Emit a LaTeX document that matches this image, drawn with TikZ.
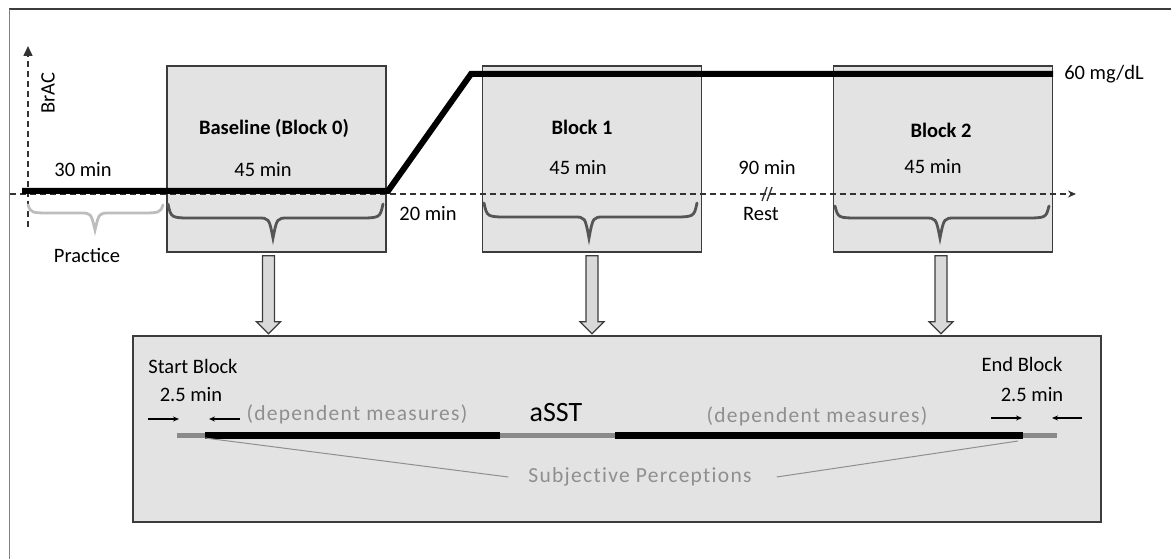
\documentclass[tikz,border=0pt]{standalone}
\usepackage{fontspec}
\setmainfont{Carlito}
\newfontfamily\grayfont[LetterSpace=6,Ligatures=NoCommon]{Carlito}
\usetikzlibrary{arrows.meta,calc}
\definecolor{boxfill}{HTML}{E3E3E3}
\definecolor{boxborder}{HTML}{3C3C3C}
\definecolor{bracedark}{HTML}{555555}
\definecolor{bracelight}{HTML}{BDBDBD}
\definecolor{graytext}{HTML}{8F8F8F}
\definecolor{axiscol}{HTML}{333333}
\definecolor{barGray}{HTML}{8A8A8A}
\definecolor{arrowfill}{HTML}{D9D9D9}
\newcommand\curlybr[7]{%
  \draw[#7] (#1,#4) .. controls (#1+3,#5) .. (#1+25,#5) -- (#3-15,#5)
    .. controls (#3-4,#5) .. (#3,#6) .. controls (#3+4,#5) .. (#3+15,#5)
    -- (#2-25,#5) .. controls (#2-3,#5) .. (#2,#4);}
\begin{document}
\begin{tikzpicture}[x=1pt,y=-1pt,
  every node/.style={inner sep=0pt, font=\fontsize{20.5}{24}\selectfont},
  blockbox/.style={draw=boxborder, line width=1.5pt, fill=boxfill, minimum width=219pt, minimum height=186pt},
  bigbox/.style={draw=boxborder, line width=2.2pt, fill=boxfill, minimum width=968pt, minimum height=186pt},
  titletext/.style={font=\fontsize{20.5}{24}\selectfont\bfseries},
  graylabel/.style={text=graytext, font=\fontsize{21.5}{24}\selectfont\grayfont},
  axisline/.style={draw=axiscol, line width=1.5pt, dash pattern=on 6pt off 4pt},
  darkbrace/.style={draw=bracedark, line width=2.8pt, line cap=round},
  lightbrace/.style={draw=bracelight, line width=2.8pt, line cap=round},
  bracstroke/.style={line width=6pt, line join=miter},
  blockarrow/.style={draw=boxborder, line width=1.2pt, fill=arrowfill, line join=miter},
  smallarrow/.style={line width=1.3pt, -{Stealth[length=6pt,width=5pt]}},
  perline/.style={draw=graytext, line width=1pt},
  downarr/.pic={\draw[blockarrow] (-6,0) -- (6,0) -- (6,66) -- (12,66) -- (0,78) -- (-12,66) -- (-6,66) -- cycle;}
]
\useasboundingbox (0,0) rectangle (1171,559);
% outer frame
\draw[draw=boxborder, line width=2pt] (1171,9) -- (9,9);
\draw[draw=gray, line width=1pt] (9,9) -- (9,559);

% top boxes
\node[blockbox] (b0) at (276.5,159) {};
\node[blockbox] (b1) at (592,159) {};
\node[blockbox] (b2) at (943,159) {};
% bottom box
\node[bigbox] (bot) at (617,429) {};

% block arrows
\pic at ([shift={(-8,3)}]b0.south) {downarr};
\pic at ([shift={(0,3)}]b1.south) {downarr};
\pic at ([shift={(-2,3)}]b2.south) {downarr};

% axes
\draw[axisline, -{Triangle[length=10pt,width=9pt]}] (28,227) -- (28,46);
\draw[axisline, -{Stealth[length=8pt,width=7pt]}] (10,194) -- (1076,194);
% break mark
\draw[axiscol, line width=1.3pt] (762,201) -- (767,187) (767,201) -- (772,187);

% braces
\curlybr{28}{163}{95}{205}{213}{230}{lightbrace}
\curlybr{168}{383}{273}{204}{218}{238}{darkbrace}
\curlybr{484}{697}{589}{203}{217}{238}{darkbrace}
\curlybr{835}{1049}{940}{206}{218}{238}{darkbrace}

% BrAC curve
\draw[bracstroke] (22,191) -- (388,191) -- (471,74) -- (1053,74);

% labels top
\node[rotate=90] (brac) at (48,93) {BrAC};
\node[titletext] (t0) at (274,128) {Baseline (Block 0)};
\node[titletext] (t1) at (582,127) {Block 1};
\node[titletext] (t2) at (941,130) {Block 2};
\node (m30) at (83,170) {30 min};
\node (m45a) at (263,170) {45 min};
\node (m45b) at (578,168) {45 min};
\node (m45c) at (933,167) {45 min};
\node (m20) at (428,214) {20 min};
\node (m90) at (767,168) {90 min};
\node (rest) at (761,214) {Rest};
\node (prac) at (87,255) {Practice};
\node (mg) at (1104,74) {60 mg/dL};

% bottom box contents
\node (sb) at (193,366) {Start Block};
\node (sbm) at (191,395) {2.5 min};
\node (eb) at (1022,364) {End Block};
\node (ebm) at (1032,395) {2.5 min};
\coordinate (sa1) at (148,419); \coordinate (sa2) at (179,419);
\coordinate (sa3) at (240,419); \coordinate (sa4) at (209,419);
\coordinate (ea1) at (991,418); \coordinate (ea2) at (1022,418);
\coordinate (ea3) at (1082,418); \coordinate (ea4) at (1052,418);
\draw[smallarrow] (sa1) -- (sa2);
\draw[smallarrow] (sa3) -- (sa4);
\draw[smallarrow] (ea1) -- (ea2);
\draw[smallarrow] (ea3) -- (ea4);
\node[graylabel] (dm1) at (357,414) {(dependent measures)};
\node[graylabel] (dm2) at (817,416) {(dependent measures)};
\node[font=\fontsize{28}{32}\selectfont] (asst) at (556,413) {aSST};

% bar
\coordinate (p0) at (177,435); \coordinate (p1) at (205,435);
\coordinate (p2) at (500,435); \coordinate (p3) at (615,435);
\coordinate (p4) at (1023,435); \coordinate (p5) at (1057,435);
\draw[barGray, line width=5pt] (p0) -- (p1);
\draw[black, line width=7pt] (p1) -- (p2);
\draw[barGray, line width=5pt] (p2) -- (p3);
\draw[black, line width=7pt] (p3) -- (p4);
\draw[barGray, line width=5pt] (p4) -- (p5);

\node[graylabel] (subj) at (640,477) {Subjective Perceptions};
\draw[perline] (205,438) -- ([xshift=-20pt]subj.west);
\draw[perline] (1018,441) -- ([xshift=25pt]subj.east);
\end{tikzpicture}
\end{document}
